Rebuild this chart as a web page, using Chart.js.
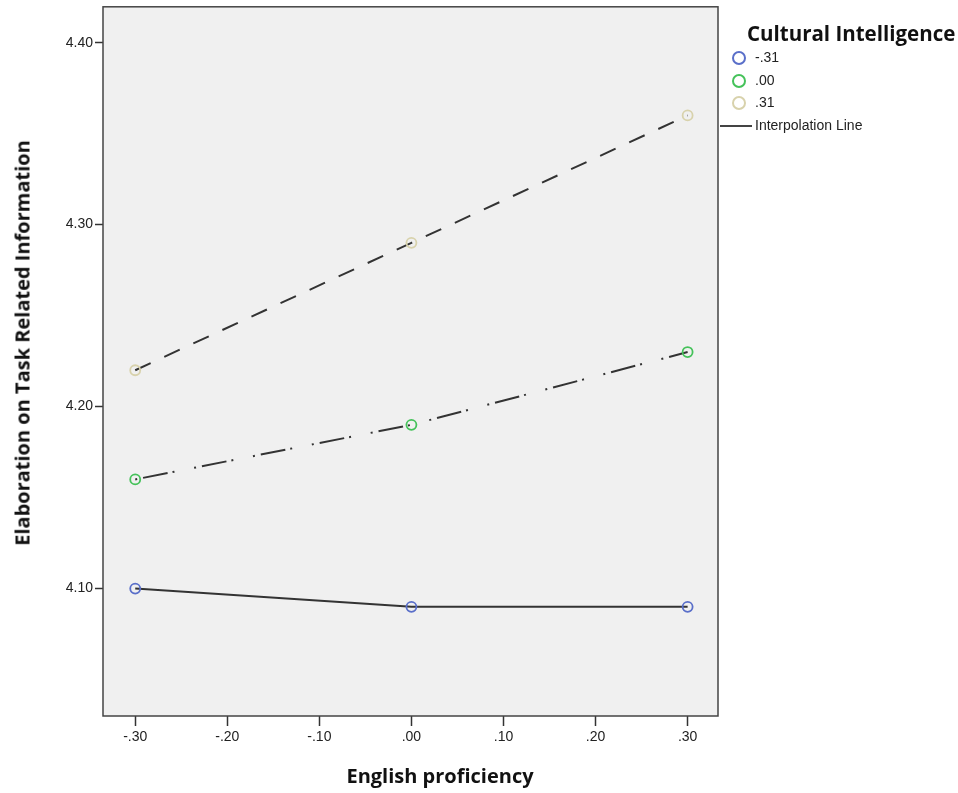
<!DOCTYPE html>
<html>
<head>
<meta charset="utf-8">
<script src="https://cdn.jsdelivr.net/npm/chart.js@4"></script>
<style>
body{margin:0;background:#fff;}
#wrap{position:relative;width:958px;height:793px;overflow:hidden;}
#plot{position:absolute;left:0;top:0;}
.ttl{position:absolute;font-family:"Open Sans",sans-serif;font-weight:bold;font-size:20px;color:#111;white-space:nowrap;}
#ytitle{left:22px;top:343px;transform:translate(-50%,-50%) rotate(-90deg);}
#xtitle{left:440px;top:775px;transform:translate(-50%,-50%);}
#legend{position:absolute;left:720px;top:20px;font-family:"Liberation Sans",Arial,sans-serif;font-size:14px;color:#222;}
#legend .head{font-family:"Open Sans",sans-serif;font-weight:bold;font-size:20.5px;color:#111;margin-left:27px;white-space:nowrap;line-height:26px;}
#legend .row{height:22.5px;line-height:22.5px;white-space:nowrap;}
#legend .dot{display:inline-block;width:10px;height:10px;border-radius:50%;border:2px solid;margin-left:12px;margin-right:9px;vertical-align:middle;}
#legend .ln{display:inline-block;width:32px;border-top:2px solid #444;margin-right:3px;vertical-align:middle;}
</style>
</head>
<body>
<div id="wrap">
<canvas id="plot" width="958" height="793"></canvas>
<div class="ttl" id="ytitle">Elaboration on Task Related Information</div>
<div class="ttl" id="xtitle">English proficiency</div>
<div id="legend"></div>
</div>
<script>

const xValues=[-0.30,0.00,0.30];

const lowCQ=[4.10,4.09,4.09];
const midCQ=[4.16,4.19,4.23];
const highCQ=[4.22,4.29,4.36];

const groupLabels=["-.31",".00",".31"];

const xTickValues=[-0.30,-0.20,-0.10,0.00,0.10,0.20,0.30];
const xTickLabels=["-.30","-.20","-.10",".00",".10",".20",".30"];

const yTickValues=[4.10,4.20,4.30,4.40];
const yTickLabels=["4.10","4.20","4.30","4.40"];

const markerColors=["#5a6fc9","#45c25a","#d8d2ac"];
const dashes=[[],[2,6,25,5,2,20],[17,15]];

function pts(arr){
return xValues.map((x,i)=>({x:x,y:arr[i]}));
}

const series=[lowCQ,midCQ,highCQ];

const frame={
id:"frame",
beforeDraw(chart){
const a=chart.chartArea;
const ctx=chart.ctx;
ctx.save();
ctx.fillStyle="#f0f0f0";
ctx.fillRect(a.left,a.top,a.right-a.left,a.bottom-a.top);
ctx.restore();
},
afterDraw(chart){
const a=chart.chartArea;
const ctx=chart.ctx;
ctx.save();
ctx.strokeStyle="#444";
ctx.lineWidth=1.5;
ctx.strokeRect(a.left,a.top,a.right-a.left,a.bottom-a.top);
ctx.restore();
}
};

new Chart(document.getElementById("plot"),{

type:"scatter",

data:{
datasets:series.map((s,i)=>({
label:groupLabels[i],
data:pts(s),
showLine:true,
borderColor:"#333",
borderWidth:2,
borderDash:dashes[i],
pointRadius:5,
pointBorderWidth:1.8,
pointBorderColor:markerColors[i],
pointBackgroundColor:"rgba(0,0,0,0)",
pointHoverRadius:5
}))
},

options:{
responsive:false,
animation:false,
layout:{padding:{left:0,top:5,right:240,bottom:0}},
plugins:{
legend:{display:false},
tooltip:{enabled:false}
},
scales:{
x:{
type:"linear",
min:-0.335,
max:0.333,
afterFit(s){s.height=77;s.paddingLeft=0;s.paddingRight=0;},
afterBuildTicks(s){s.ticks=xTickValues.map(v=>({value:v}));},
ticks:{
autoSkip:false,
maxRotation:0,
padding:3,
color:"#222",
font:{family:"Liberation Sans",size:14},
callback:(v,i)=>xTickLabels[i]
},
grid:{drawOnChartArea:false,tickLength:10,tickColor:"#333",tickWidth:1.5},
border:{display:false}
},
y:{
min:4.030,
max:4.4197,
afterFit(s){s.width=103;s.paddingTop=0;s.paddingBottom=0;},
afterBuildTicks(s){s.ticks=yTickValues.map(v=>({value:v}));},
ticks:{
autoSkip:false,
padding:2,
color:"#222",
font:{family:"Liberation Sans",size:14},
callback:(v,i)=>yTickLabels[i]
},
grid:{drawOnChartArea:false,tickLength:8,tickColor:"#333",tickWidth:1.5},
border:{display:false}
}
}
},

plugins:[frame]

});

const legend=document.getElementById("legend");

let html=`<div class="head">Cultural Intelligence</div>`;

groupLabels.forEach((g,i)=>{
html+=`<div class="row"><span class="dot" style="border-color:${markerColors[i]}"></span>${g}</div>`;
});

html+=`<div class="row"><span class="ln"></span>Interpolation Line</div>`;

legend.innerHTML=html;

</script>
</body>
</html>
